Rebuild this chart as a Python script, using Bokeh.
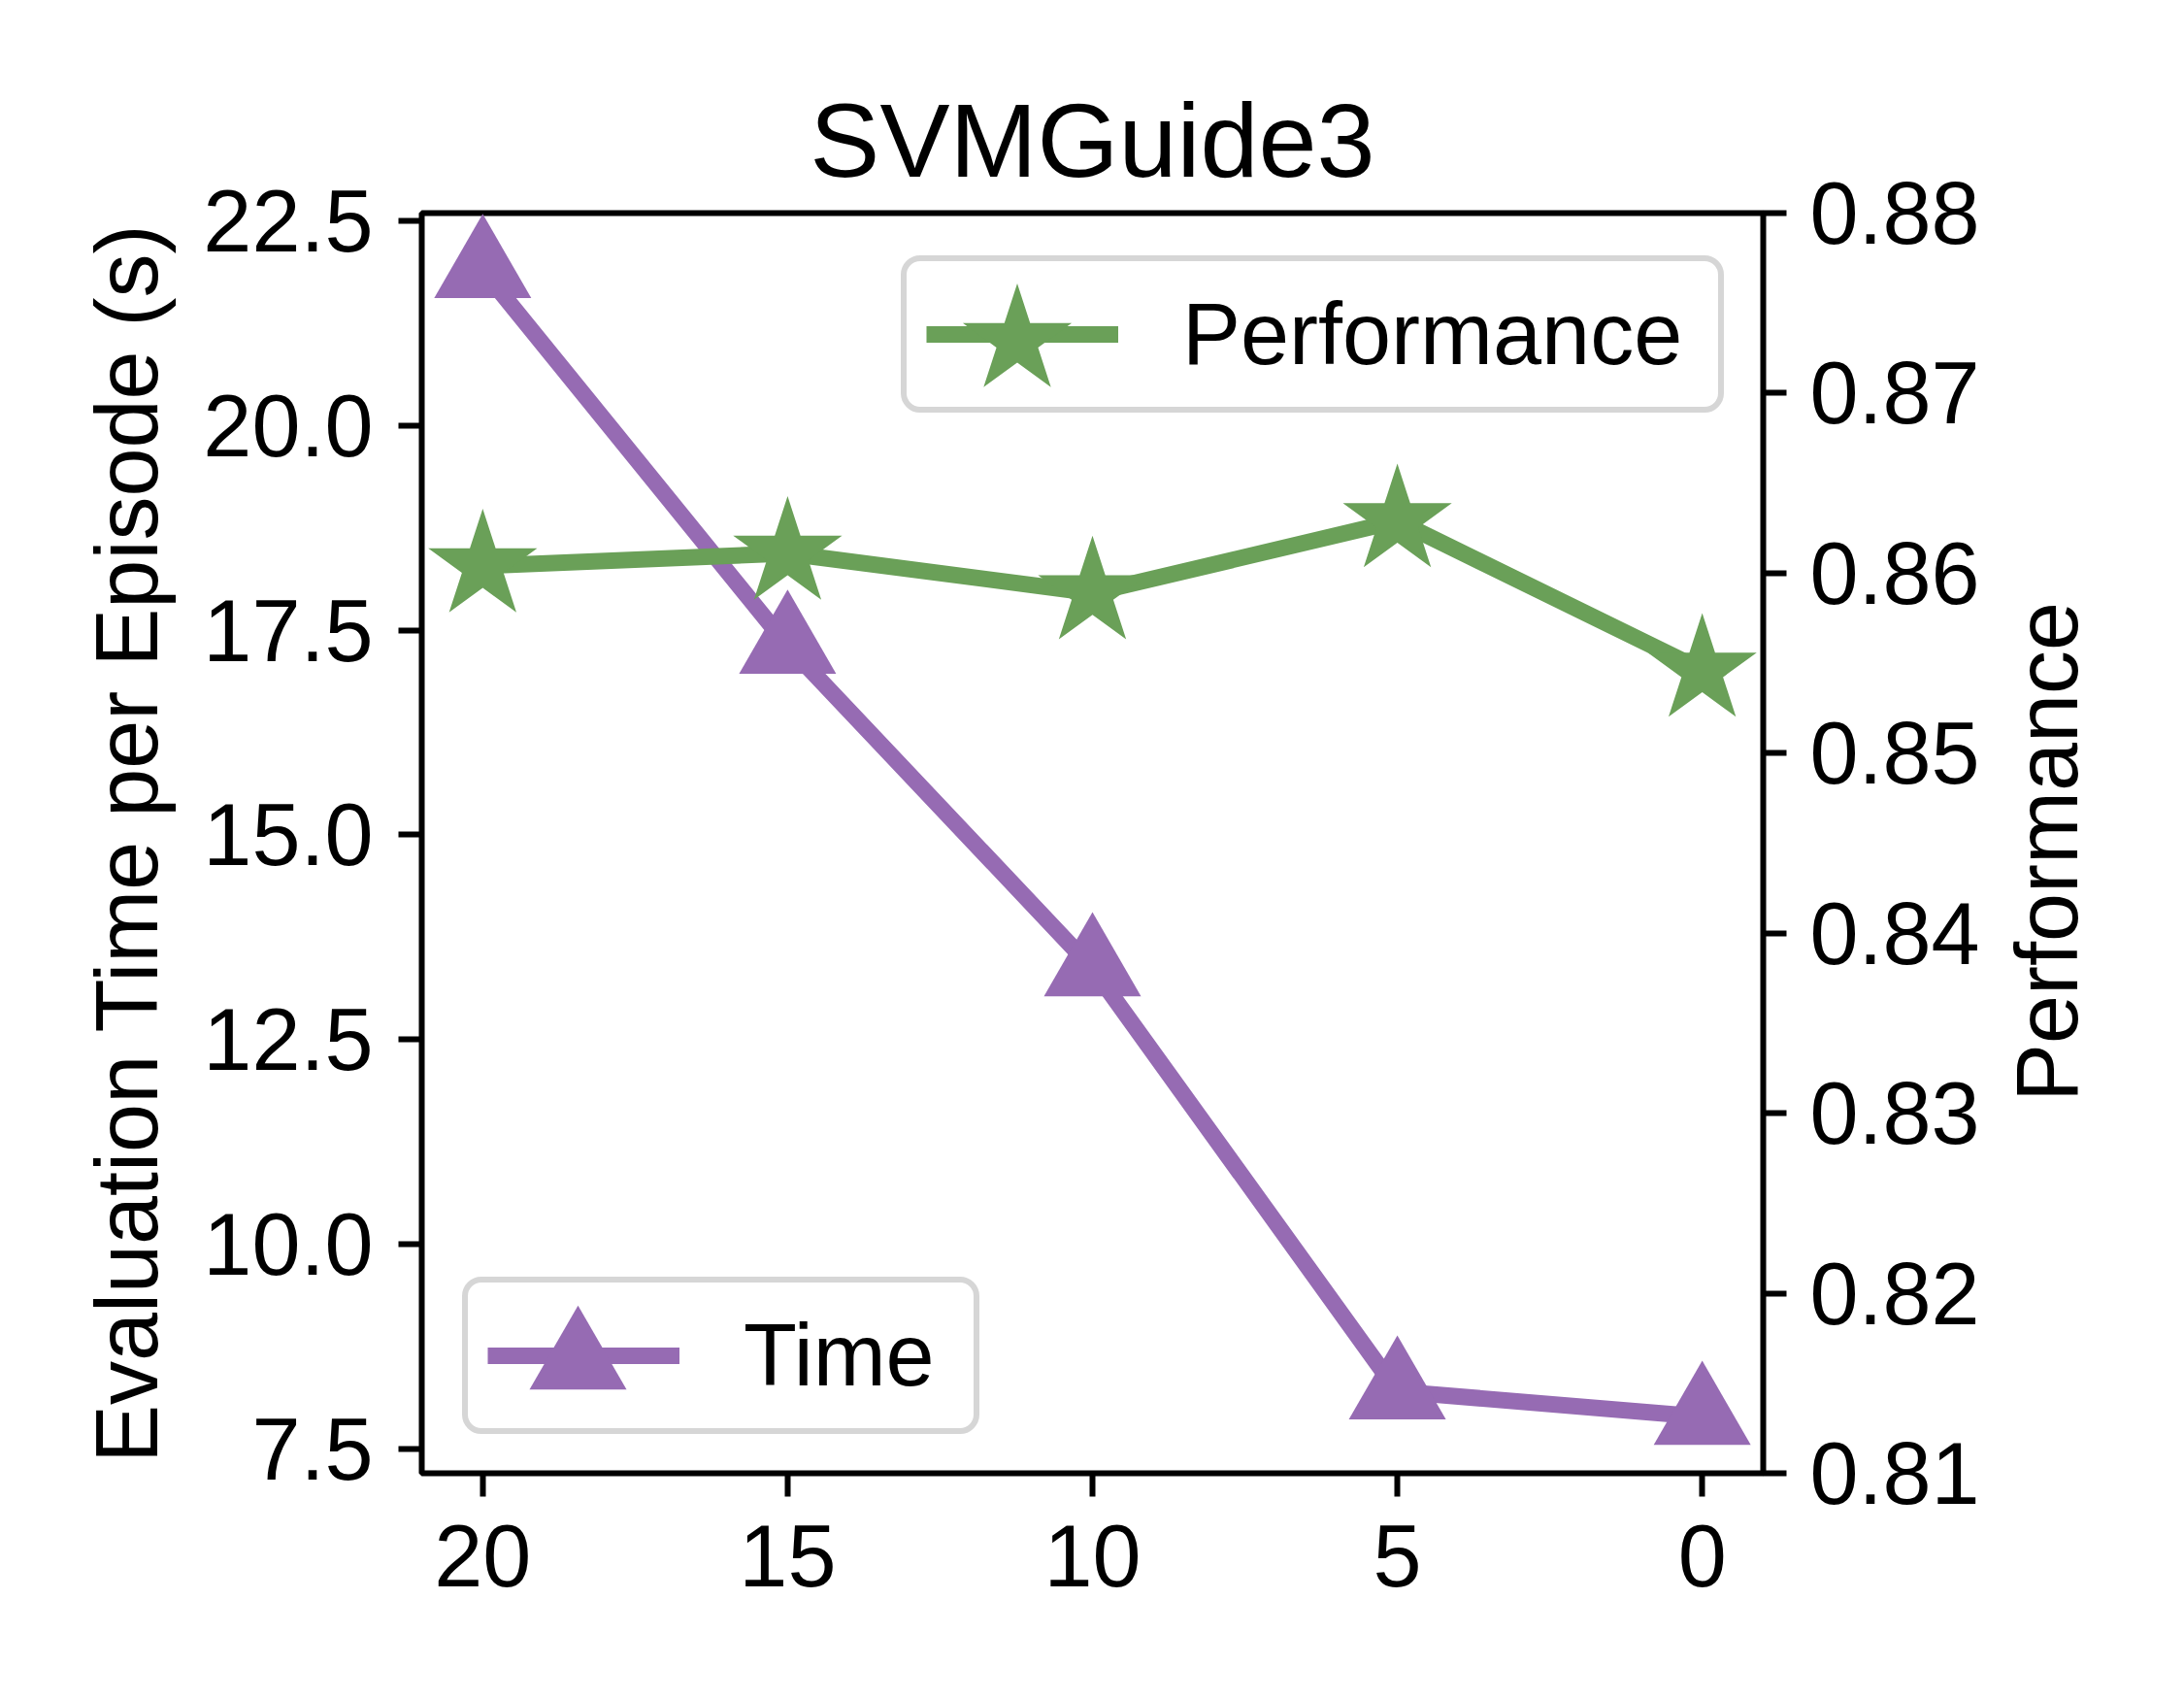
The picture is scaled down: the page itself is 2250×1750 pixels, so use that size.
import math
from bokeh.plotting import figure
from bokeh.models import Range1d, LinearAxis, FixedTicker, Legend, LegendItem, Label
from bokeh.embed import file_html
from bokeh.resources import INLINE

# ---- data ----
episodes = [20, 15, 10, 5, 0]
time_s = [21.9, 17.31, 13.37, 8.20, 7.89]
performance = [0.8604, 0.8611, 0.8589, 0.8629, 0.8546]

x_ticks = [20, 15, 10, 5, 0]
x_tick_labels = ["20", "15", "10", "5", "0"]
left_ticks = [7.5, 10.0, 12.5, 15.0, 17.5, 20.0, 22.5]
left_tick_labels = ["7.5", "10.0", "12.5", "15.0", "17.5", "20.0", "22.5"]
right_ticks = [0.81, 0.82, 0.83, 0.84, 0.85, 0.86, 0.87, 0.88]
right_tick_labels = ["0.81", "0.82", "0.83", "0.84", "0.85", "0.86", "0.87", "0.88"]

title_text = "SVMGuide3"
left_label = "Evaluation Time per Episode (s)"
right_label = "Performance"

FONT = "Liberation Sans"
PURPLE = "#966bb3"
GREEN = "#6aa058"

FRAME_W = 1382
FRAME_H = 1298
STAR_SIZE = 118
TRI_SIZE = 100

p = figure(frame_width=FRAME_W, frame_height=FRAME_H,
           x_range=Range1d(21, -1), y_range=Range1d(7.2, 22.595),
           output_backend="svg", toolbar_location=None,
           min_border_left=434, min_border_right=426,
           min_border_top=219, min_border_bottom=225,
           background_fill_color="white", border_fill_color="white")
p.extra_y_ranges = {"perf": Range1d(0.81, 0.88)}

p.title.text = title_text
p.title.align = "center"
p.title.text_font = FONT
p.title.text_font_size = "108px"
p.title.text_font_style = "normal"
p.title.text_color = "black"
p.title.standoff = 30

p.xgrid.visible = False
p.ygrid.visible = False
p.outline_line_color = "black"
p.outline_line_width = 6
p.outline_line_alpha = 1.0

right_axis = LinearAxis(y_range_name="perf")
p.add_layout(right_axis, "right")

p.xaxis.ticker = FixedTicker(ticks=x_ticks)
p.xaxis.major_label_overrides = {t: l for t, l in zip(x_ticks, x_tick_labels)}
p.yaxis[0].ticker = FixedTicker(ticks=left_ticks)
p.yaxis[0].major_label_overrides = {t: l for t, l in zip(left_ticks, left_tick_labels)}
p.yaxis[0].axis_label = left_label
right_axis.ticker = FixedTicker(ticks=right_ticks)
right_axis.major_label_overrides = {t: l for t, l in zip(right_ticks, right_tick_labels)}

for ax in [p.xaxis[0], p.yaxis[0], right_axis]:
    ax.axis_line_color = None
    ax.major_tick_line_color = "black"
    ax.major_tick_line_width = 6
    ax.major_tick_out = 24
    ax.major_tick_in = 0
    ax.minor_tick_line_color = None
    ax.major_label_text_font = FONT
    ax.major_label_text_font_size = "90px"
    ax.major_label_text_color = "black"
    ax.axis_label_text_font = FONT
    ax.axis_label_text_font_size = "90px"
    ax.axis_label_text_font_style = "normal"
    ax.axis_label_text_color = "black"

p.xaxis[0].major_label_standoff = 29
p.yaxis[0].major_label_standoff = 26
p.yaxis[0].axis_label_standoff = 25
right_axis.major_label_standoff = 24

# right-hand axis title, reading bottom-to-top like the left one,
# placed in its own panel just outside the right axis
p.add_layout(Label(x=66, y=FRAME_H / 2 - 9, x_units="screen", y_units="screen",
                   text=right_label, angle=math.pi / 2, angle_units="rad",
                   text_align="center", text_baseline="alphabetic",
                   text_font=FONT, text_font_size="90px", text_color="black"), "right")

t_line = p.line(episodes, time_s, line_color=PURPLE, line_width=17, line_join="round")
t_mark = p.scatter(episodes, time_s, marker="triangle", size=TRI_SIZE,
                   fill_color=PURPLE, line_color=None)
g_line = p.line(episodes, performance, y_range_name="perf", line_color=GREEN,
                line_width=17, line_join="round")
g_mark = p.scatter(episodes, performance, y_range_name="perf", marker="star", size=STAR_SIZE,
                   fill_color=GREEN, line_color=None)

# legend layout parameters
PAD = 20
GW = 198
GH = 110


def add_legend(label, line_r, mark_r, loc, label_width, mark_size):
    leg = Legend(items=[LegendItem(label=label, renderers=[line_r])],
                 location=loc, orientation="vertical",
                 padding=PAD, spacing=0, margin=0,
                 glyph_width=GW, glyph_height=GH,
                 label_standoff=66, label_width=label_width, label_height=GH,
                 label_text_font=FONT, label_text_font_size="90px",
                 label_text_color="black",
                 border_line_color="#d6d6d6", border_line_width=6, border_line_alpha=1.0,
                 background_fill_color="white", background_fill_alpha=0.8)
    if "border_radius" in Legend.properties():
        leg.border_radius = 20
    p.add_layout(leg, "center")
    # overlay legend that draws the marker at full size on the glyph slot
    box = mark_size / 0.4
    cx = loc[0] + PAD + GW / 2
    cy = loc[1] + PAD + GH / 2
    mleg = Legend(items=[LegendItem(label=" ", renderers=[mark_r])],
                  location=(cx - box / 2, cy - box / 2), orientation="vertical",
                  padding=0, spacing=0, margin=0,
                  glyph_width=int(box), glyph_height=int(box),
                  label_standoff=0, label_width=0, label_height=0,
                  label_text_font_size="1px",
                  border_line_color=None, background_fill_alpha=0.0)
    p.add_layout(mleg, "center")


add_legend("Performance", g_line, g_mark, (494, 1092), 532, STAR_SIZE)
add_legend("Time", t_line, t_mark, (42, 40), 217, TRI_SIZE)

open("out.html", "w").write(file_html(p, INLINE))
